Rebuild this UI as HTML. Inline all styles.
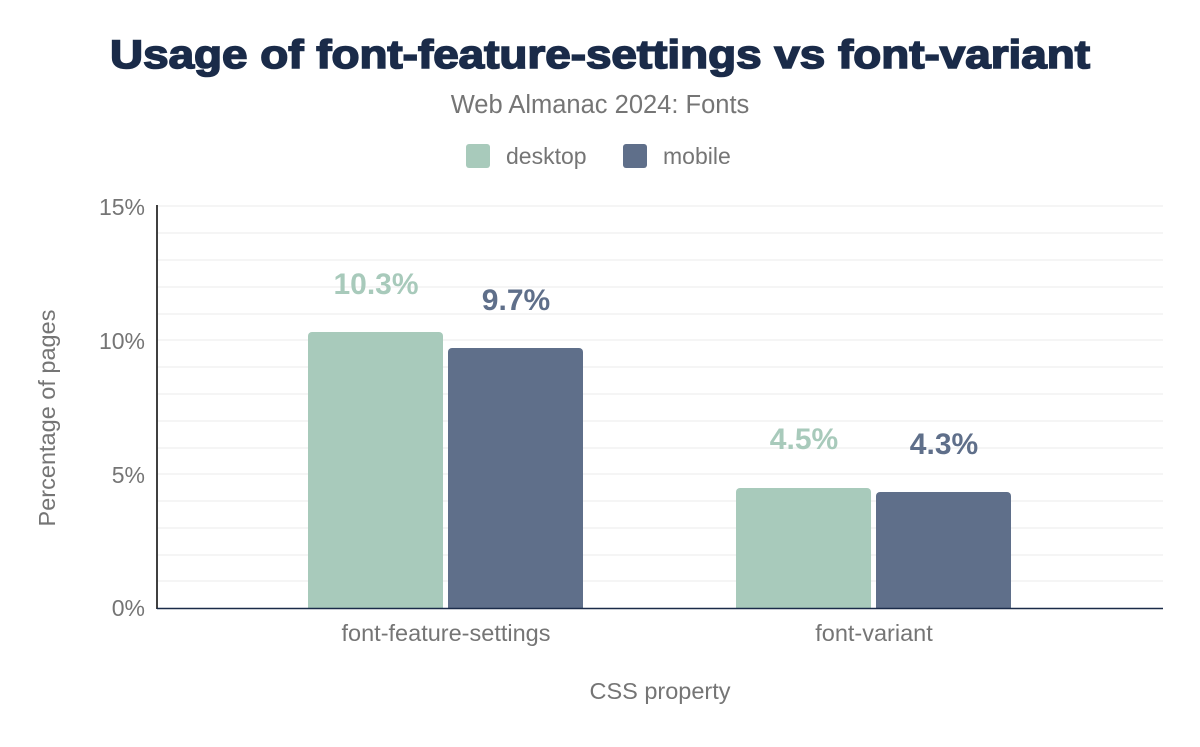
<!DOCTYPE html>
<html><head><meta charset="utf-8"><style>body{margin:0;background:#fff}</style></head><body>
<svg width="1200" height="742" xmlns="http://www.w3.org/2000/svg" font-family="Liberation Sans, Arial, sans-serif">
<rect width="1200" height="742" fill="#fff"/>
<text x="110" y="68" textLength="980" lengthAdjust="spacingAndGlyphs" font-size="40" font-weight="bold" fill="#1a2b49" stroke="#1a2b49" stroke-width="1.6">Usage of font-feature-settings vs font-variant</text>
<text x="600" y="113" text-anchor="middle" font-size="25.5" fill="#757575">Web Almanac 2024: Fonts</text>
<rect x="466" y="144" width="24" height="24" rx="3" fill="#a8cabb"/>
<text x="506" y="164" font-size="23" fill="#757575">desktop</text>
<rect x="623" y="144" width="24" height="24" rx="3" fill="#5f6f8a"/>
<text x="663" y="164" font-size="23" fill="#757575">mobile</text>
<g stroke="#f2f2f2" stroke-width="1.5">
<line x1="158" x2="1163" y1="206" y2="206"/><line x1="158" x2="1163" y1="233" y2="233"/><line x1="158" x2="1163" y1="260" y2="260"/><line x1="158" x2="1163" y1="287" y2="287"/><line x1="158" x2="1163" y1="314" y2="314"/><line x1="158" x2="1163" y1="340" y2="340"/><line x1="158" x2="1163" y1="367" y2="367"/><line x1="158" x2="1163" y1="394" y2="394"/><line x1="158" x2="1163" y1="421" y2="421"/><line x1="158" x2="1163" y1="448" y2="448"/><line x1="158" x2="1163" y1="474" y2="474"/><line x1="158" x2="1163" y1="501" y2="501"/><line x1="158" x2="1163" y1="528" y2="528"/><line x1="158" x2="1163" y1="555" y2="555"/><line x1="158" x2="1163" y1="581" y2="581"/>
</g>
<g font-size="23" fill="#757575" text-anchor="end">
<text x="145" y="215">15%</text><text x="145" y="349">10%</text><text x="145" y="483">5%</text><text x="145" y="616">0%</text>
</g>
<path d="M308 608V336a4 4 0 0 1 4-4h127a4 4 0 0 1 4 4V608Z" fill="#a8cabb"/>
<path d="M448 608V352a4 4 0 0 1 4-4h127a4 4 0 0 1 4 4V608Z" fill="#5f6f8a"/>
<path d="M736 608V492a4 4 0 0 1 4-4h127a4 4 0 0 1 4 4V608Z" fill="#a8cabb"/>
<path d="M876 608V496a4 4 0 0 1 4-4h127a4 4 0 0 1 4 4V608Z" fill="#5f6f8a"/>
<line x1="157" y1="205" x2="157" y2="609" stroke="#000" stroke-width="1.5"/>
<line x1="157" y1="608.5" x2="1163" y2="608.5" stroke="#1a2b49" stroke-width="1.5"/>
<g font-size="30" font-weight="bold" text-anchor="middle">
<text x="376" y="294" fill="#a8cabb">10.3%</text>
<text x="516" y="310" fill="#5f6f8a">9.7%</text>
<text x="804" y="449" fill="#a8cabb">4.5%</text>
<text x="944" y="454" fill="#5f6f8a">4.3%</text>
</g>
<g font-size="23.5" fill="#757575" text-anchor="middle">
<text x="446" y="641">font-feature-settings</text>
<text x="874" y="641">font-variant</text>
<text x="660" y="699">CSS property</text>
<text transform="translate(55 418) rotate(-90)">Percentage of pages</text>
</g>
</svg>
</body></html>
